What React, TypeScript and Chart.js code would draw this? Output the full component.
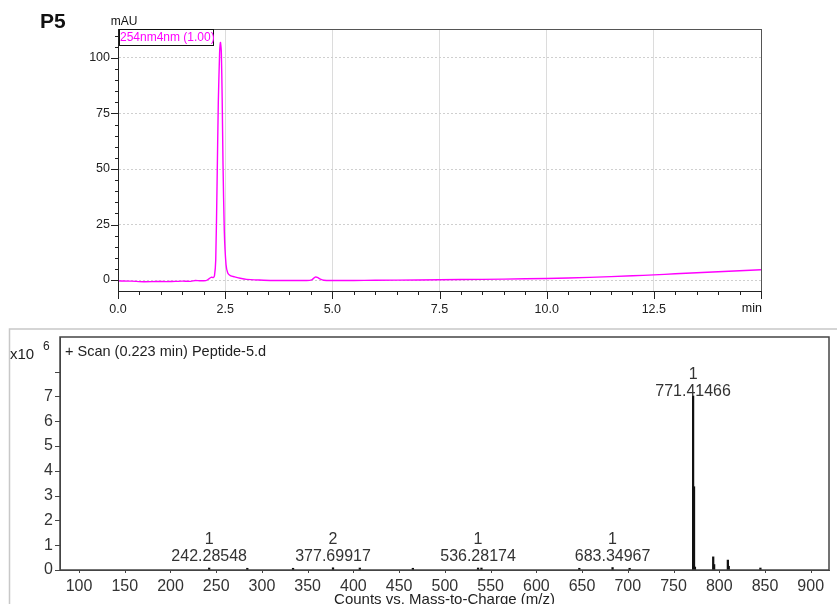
import React, { useEffect, useRef } from 'react';
import { Chart, registerables } from 'chart.js';

Chart.register(...registerables);

const FONT = '"Liberation Sans", Arial, Helvetica, sans-serif';

// ---------- HPLC chromatogram (254 nm) ----------
const hplcTimes = [
  0.0, 0.3, 0.6, 0.9, 1.2, 1.5, 1.7, 1.8, 1.9, 2.05, 2.12, 2.18, 2.22, 2.25,
  2.28, 2.31, 2.34, 2.37, 2.39, 2.41, 2.43, 2.45, 2.48, 2.52, 2.56, 2.62, 2.72,
  2.85, 3.0, 3.3, 3.6, 4.0, 4.4, 4.52, 4.6, 4.65, 4.72, 4.8, 5.0, 5.5, 6.0, 7.0,
  8.0, 9.0, 10.0, 11.0, 12.0, 12.5, 13.0, 14.0, 15.0,
];
const hplcMAU = [
  -0.4, -0.5, -0.8, -0.7, -0.7, -0.5, -0.6, -0.2, -0.3, -0.3, 0.5, 1.3, 1.1, 1.8,
  9, 42, 80, 102, 107, 103, 82, 52, 22, 7, 3.2, 2.0, 1.4,
  0.8, 0.3, 0.0, -0.2, -0.2, -0.2, 0.1, 1.3, 1.2, 0.4, -0.1, -0.2, -0.2, -0.1, 0.0,
  0.2, 0.4, 0.7, 1.2, 1.9, 2.3, 2.8, 3.7, 4.6,
];
const hplcXTicks = [0, 2.5, 5, 7.5, 10, 12.5, 15];
const hplcYTicks = [0, 25, 50, 75, 100];

// ---------- Mass spectrum ----------
const msMz = [
  242.28548, 284, 334, 377.69917, 407, 465, 536.28174, 540, 647, 683.34967, 702,
  771.41466, 772.42, 773.42, 793.4, 794.4, 809.4, 810.4, 845,
];
const msIntensity = [
  0.08, 0.07, 0.07, 0.09, 0.08, 0.07, 0.08, 0.08, 0.07, 0.1, 0.07,
  7.02, 3.36, 0.12, 0.53, 0.22, 0.4, 0.15, 0.08,
];
const msXTicks = [100, 150, 200, 250, 300, 350, 400, 450, 500, 550, 600, 650, 700, 750, 800, 850, 900];
const msYTicks = [0, 1, 2, 3, 4, 5, 6, 7, 8];
const msLabelMz = [242.28548, 377.69917, 536.28174, 683.34967, 771.41466];
const msLabelText = ['242.28548', '377.69917', '536.28174', '683.34967', '771.41466'];
const msLabelCharge = ['1', '2', '1', '1', '1'];

const hplcDecor = {
  id: 'hplcDecor',
  afterDraw(chart: any) {
    const { ctx, chartArea: a, scales } = chart;
    const x = scales.x;
    const y = scales.y;
    ctx.save();
    // frame
    ctx.strokeStyle = '#555';
    ctx.lineWidth = 1;
    ctx.strokeRect(a.left + 0.5, a.top + 0.5, a.right - a.left, a.bottom - a.top);
    ctx.strokeStyle = '#222';
    ctx.beginPath();
    ctx.moveTo(a.left + 0.5, a.top);
    ctx.lineTo(a.left + 0.5, a.bottom + 0.5);
    ctx.lineTo(a.right + 0.5, a.bottom + 0.5);
    ctx.stroke();
    // y ticks
    ctx.strokeStyle = '#222';
    ctx.beginPath();
    for (let v = 0; v <= 110; v += 5) {
      const py = Math.round(y.getPixelForValue(v)) + 0.5;
      const len = v % 25 === 0 ? 7 : 3;
      ctx.moveTo(a.left - len, py);
      ctx.lineTo(a.left, py);
    }
    // x ticks
    for (let v = 0; v <= 15.001; v += 0.5) {
      const px = Math.round(x.getPixelForValue(v)) + 0.5;
      const major = Math.abs(v / 2.5 - Math.round(v / 2.5)) < 1e-6;
      ctx.moveTo(px, a.bottom);
      ctx.lineTo(px, a.bottom + (major ? 8 : 4));
    }
    ctx.stroke();
    // texts
    ctx.fillStyle = '#111';
    ctx.font = 'bold 21px ' + FONT;
    ctx.textAlign = 'left';
    ctx.textBaseline = 'middle';
    ctx.fillText('P5', 40, 22);
    ctx.font = '12px ' + FONT;
    ctx.textAlign = 'center';
    ctx.fillText('mAU', 124, 22);
    ctx.font = '12.5px ' + FONT;
    ctx.textAlign = 'right';
    ctx.fillText('min', a.right + 1, 309);
    // legend box
    ctx.strokeStyle = '#111';
    ctx.strokeRect(119.5, 29.5, 94, 16);
    ctx.fillStyle = '#ff00ff';
    ctx.textAlign = 'left';
    ctx.font = '12px ' + FONT;
    ctx.fillText('254nm4nm (1.00)', 120, 38);
    ctx.restore();
  },
};

const msDecor = {
  id: 'msDecor',
  beforeDraw(chart: any) {
    const { ctx } = chart;
    ctx.save();
    ctx.fillStyle = '#fff';
    ctx.fillRect(0, 0, chart.width, chart.height);
    ctx.strokeStyle = '#c8c8c8';
    ctx.lineWidth = 1.5;
    ctx.strokeRect(9.5, 9, chart.width + 10, chart.height + 10);
    ctx.restore();
  },
  afterDraw(chart: any) {
    const { ctx, chartArea: a, scales } = chart;
    const x = scales.x;
    const y = scales.y;
    ctx.save();
    ctx.strokeStyle = '#444';
    ctx.lineWidth = 1.5;
    ctx.strokeRect(a.left, a.top, a.right - a.left, a.bottom - a.top);
    ctx.lineWidth = 1;
    ctx.beginPath();
    for (const v of msYTicks) {
      const py = Math.round(y.getPixelForValue(v)) + 0.5;
      ctx.moveTo(a.left - 5, py);
      ctx.lineTo(a.left, py);
    }
    for (const v of msXTicks) {
      const px = Math.round(x.getPixelForValue(v)) + 0.5;
      ctx.moveTo(px, a.bottom);
      ctx.lineTo(px, a.bottom + 3);
    }
    ctx.stroke();
    // peak annotations
    ctx.fillStyle = '#333';
    ctx.font = '16px ' + FONT;
    ctx.textAlign = 'center';
    ctx.textBaseline = 'middle';
    const base = y.getPixelForValue(0);
    msLabelMz.forEach((mz, i) => {
      const idx = msMz.indexOf(mz);
      const top = y.getPixelForValue(msIntensity[idx]);
      const numY = Math.min(top - 4, base - 13);
      const px = x.getPixelForValue(mz);
      ctx.fillText(msLabelText[i], px, numY);
      ctx.fillText(msLabelCharge[i], px, numY - 17);
    });
    // header texts
    ctx.fillStyle = '#222';
    ctx.textAlign = 'left';
    ctx.font = '15px ' + FONT;
    ctx.fillText('x10', 10, 35);
    ctx.font = '12px ' + FONT;
    ctx.fillText('6', 43, 27);
    ctx.font = '14.5px ' + FONT;
    ctx.fillText('+ Scan (0.223 min) Peptide-5.d', 65, 32);
    // axis title
    ctx.font = '15px ' + FONT;
    ctx.textAlign = 'center';
    ctx.textBaseline = 'top';
    ctx.fillText('Counts vs. Mass-to-Charge (m/z)', (a.left + a.right) / 2, 272);
    ctx.restore();
  },
};

export default function App() {
  const topRef = useRef<HTMLCanvasElement>(null);
  const botRef = useRef<HTMLCanvasElement>(null);

  useEffect(() => {
    const top = new Chart(topRef.current as HTMLCanvasElement, {
      type: 'line',
      data: {
        datasets: [
          {
            data: hplcTimes.map((t, i) => ({ x: t, y: hplcMAU[i] })),
            borderColor: '#ff00ff',
            borderWidth: 1.4,
            pointRadius: 0,
            tension: 0.2,
            fill: false,
          },
        ],
      },
      options: {
        responsive: false,
        animation: false,
        events: [],
        layout: { padding: { left: 0, right: 76, top: 29, bottom: 0 } },
        plugins: { legend: { display: false }, tooltip: { enabled: false }, title: { display: false } },
        scales: {
          x: {
            type: 'linear',
            min: 0,
            max: 15,
            afterBuildTicks: (s: any) => {
              s.ticks = hplcXTicks.map((v) => ({ value: v }));
            },
            afterFit: (s: any) => {
              s.height = 29;
            },
            ticks: {
              autoSkip: false,
              maxRotation: 0,
              padding: 11,
              color: '#222',
              font: { family: FONT, size: 12.5 },
              callback: (v: any) => (v === 15 ? '' : Number(v).toFixed(1)),
            },
            grid: {
              drawTicks: false,
              color: (c: any) =>
                c.tick && c.tick.value > 0 && c.tick.value < 15 ? '#dcdcdc' : 'rgba(0,0,0,0)',
              lineWidth: 1,
            },
            border: { display: true, color: '#222' },
          },
          y: {
            type: 'linear',
            min: -4.95,
            max: 113.06,
            afterBuildTicks: (s: any) => {
              s.ticks = hplcYTicks.map((v) => ({ value: v }));
            },
            afterFit: (s: any) => {
              s.width = 118;
            },
            ticks: {
              autoSkip: false,
              padding: 8,
              color: '#222',
              font: { family: FONT, size: 12.5 },
              callback: (v: any) => String(v),
            },
            grid: { drawTicks: false, color: '#cfcfcf', lineWidth: 1 },
            border: { display: true, color: '#222', dash: [2, 2] },
          },
        },
      },
      plugins: [hplcDecor],
    } as any);

    const bot = new Chart(botRef.current as HTMLCanvasElement, {
      type: 'bar',
      data: {
        datasets: [
          {
            data: msMz.map((m, i) => ({ x: m, y: msIntensity[i] })),
            backgroundColor: '#111',
            borderWidth: 0,
            barThickness: 1.6,
          },
        ],
      },
      options: {
        responsive: false,
        animation: false,
        events: [],
        layout: { padding: { left: 0, right: 8, top: 17, bottom: 0 } },
        plugins: { legend: { display: false }, tooltip: { enabled: false }, title: { display: false } },
        scales: {
          x: {
            type: 'linear',
            min: 79.2,
            max: 920.0,
            offset: false,
            afterBuildTicks: (s: any) => {
              s.ticks = msXTicks.map((v) => ({ value: v }));
            },
            afterFit: (s: any) => {
              s.height = 34;
            },
            ticks: {
              autoSkip: false,
              maxRotation: 0,
              padding: 7,
              color: '#333',
              font: { family: FONT, size: 16 },
              callback: (v: any) => String(v),
            },
            grid: { display: false, drawTicks: false, offset: false },
            border: { display: true, color: '#444' },
          },
          y: {
            type: 'linear',
            min: 0,
            max: 9.4,
            afterBuildTicks: (s: any) => {
              s.ticks = msYTicks.map((v) => ({ value: v }));
            },
            afterFit: (s: any) => {
              s.width = 60;
            },
            ticks: {
              autoSkip: false,
              padding: 7,
              color: '#333',
              font: { family: FONT, size: 16 },
              callback: (v: any) => (v === 8 ? '' : String(v)),
            },
            grid: { display: false, drawTicks: false },
            border: { display: true, color: '#444' },
          },
        },
      },
      plugins: [msDecor],
    } as any);

    return () => {
      top.destroy();
      bot.destroy();
    };
  }, []);

  return (
    <div style={{ position: 'absolute', left: 0, top: 0, width: 837, height: 604, background: '#fff', overflow: 'hidden' }}>
      <canvas ref={topRef} width={837} height={320} style={{ position: 'absolute', left: 0, top: 0, width: 837, height: 320 }} />
      <canvas ref={botRef} width={837} height={284} style={{ position: 'absolute', left: 0, top: 320, width: 837, height: 284 }} />
    </div>
  );
}
